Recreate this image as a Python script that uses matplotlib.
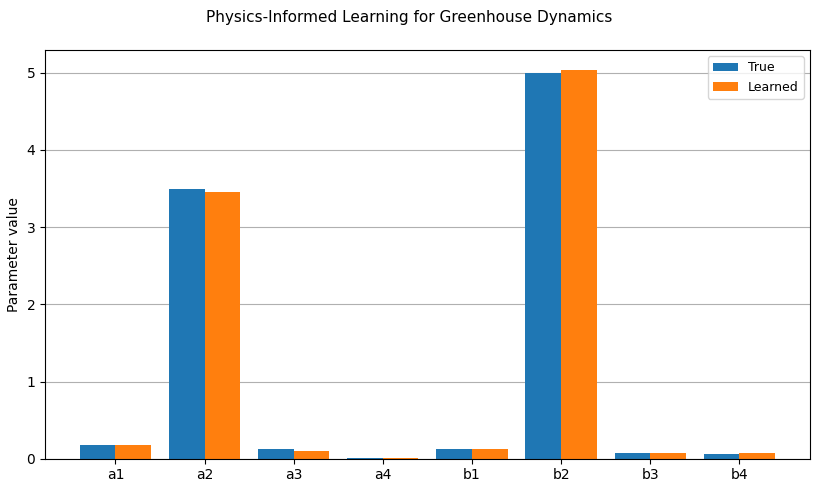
import numpy as np
import matplotlib.pyplot as plt

# Parametres
params = ["a1", "a2", "a3", "a4", "b1", "b2", "b3", "b4"]
true_vals = [0.18, 3.50, 0.12, 0.01, 0.12, 5.00, 0.08, 0.06]
learned_vals = [0.18, 3.45, 0.10, 0.01, 0.12, 5.04, 0.075, 0.07]

x = np.arange(len(params))
w = 0.4

fig, ax = plt.subplots(figsize=(8.18, 4.87), dpi=100)
fig.subplots_adjust(left=0.055, right=0.99, top=0.897, bottom=0.058)
ax.bar(x - w/2, true_vals, w, label="True", color="#1f77b4")
ax.bar(x + w/2, learned_vals, w, label="Learned", color="#ff7f0e")
ax.set_xticks(x)
ax.set_xticklabels(params)
ax.set_ylabel("Parameter value")
ax.yaxis.grid(True)
ax.set_axisbelow(True)
ax.legend(loc="upper right", fontsize=9)
fig.suptitle("Physics-Informed Learning for Greenhouse Dynamics", fontsize=11)
plt.savefig("out.png")
